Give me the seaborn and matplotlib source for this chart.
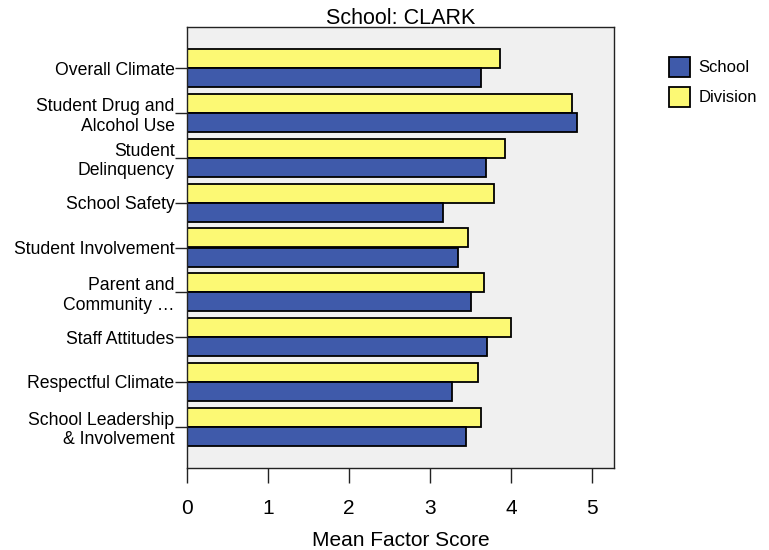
import numpy as np
import pandas as pd
import matplotlib
matplotlib.use("Agg")
import matplotlib.pyplot as plt
import seaborn as sns
from matplotlib.patches import Patch

# Values
factors = [
    "Overall Climate",
    "Student Drug and\nAlcohol Use",
    "Student\nDelinquency",
    "School Safety",
    "Student Involvement",
    "Parent and\nCommunity \u2026",
    "Staff Attitudes",
    "Respectful Climate",
    "School Leadership\n& Involvement",
]
school_scores = [3.63, 4.81, 3.69, 3.16, 3.35, 3.51, 3.70, 3.27, 3.44]
division_scores = [3.86, 4.75, 3.93, 3.79, 3.47, 3.66, 4.00, 3.59, 3.63]
x_ticks = [0, 1, 2, 3, 4, 5]

school_color = "#3F5AAA"
division_color = "#FCF974"

df = pd.DataFrame({
    "factor": factors * 2,
    "score": division_scores + school_scores,
    "group": ["Division"] * len(factors) + ["School"] * len(factors),
})

sns.set_style("white")
plt.rcParams["font.family"] = ["Liberation Sans", "DejaVu Sans"]
plt.rcParams["text.color"] = "black"
plt.rcParams["axes.labelcolor"] = "black"
plt.rcParams["xtick.color"] = "black"
plt.rcParams["ytick.color"] = "black"

fig = plt.figure(figsize=(7.69, 5.5), dpi=100)
ax = fig.add_axes([187 / 769, 82 / 550, 427 / 769, 441 / 550])

sns.barplot(
    data=df, x="score", y="factor", hue="group",
    hue_order=["Division", "School"], order=factors,
    palette={"Division": division_color, "School": school_color},
    saturation=1, width=0.85, edgecolor="black", linewidth=1.3, orient="h",
    errorbar=None, legend=False, ax=ax,
)

ax.set_facecolor("#F0F0F0")
ax.set_xlim(0, 5.27)
ax.set_ylim(8.92, -0.92)
ax.set_xticks(x_ticks)
ax.set_xticklabels([str(t) for t in x_ticks], fontsize=15)
ax.tick_params(axis="x", bottom=True, length=11, width=1, color="#222222", pad=11)
ax.tick_params(axis="y", left=True, length=9, width=1, color="#222222", labelsize=12.7, pad=0)
ax.set_ylabel("")
ax.set_xlabel("Mean Factor Score", fontsize=15, labelpad=10)
ax.set_title("School: CLARK", fontsize=15.5, pad=2)

for s in ax.spines.values():
    s.set_color("#222222")
    s.set_linewidth(1)

handles = [
    Patch(facecolor=school_color, edgecolor="black", linewidth=1.3, label="School"),
    Patch(facecolor=division_color, edgecolor="black", linewidth=1.3, label="Division"),
]
fig.legend(handles=handles, loc="upper left", bbox_to_anchor=(669 / 769, (550 - 57) / 550),
           frameon=False, fontsize=12, handlelength=1.25, handleheight=1.45,
           handletextpad=0.5, labelspacing=0.6, borderpad=0, borderaxespad=0)

fig.savefig("out.png", dpi=100)
